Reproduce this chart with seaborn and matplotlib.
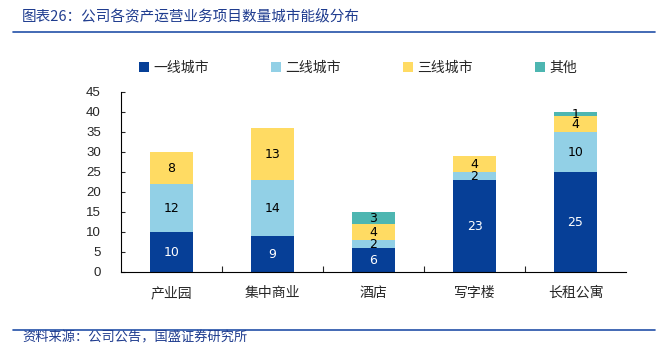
import matplotlib
matplotlib.use("Agg")
import matplotlib.pyplot as plt
import seaborn as sns
import numpy as np
from matplotlib.patches import Patch
from matplotlib.lines import Line2D

categories = ["产业园", "集中商业", "酒店", "写字楼", "长租公寓"]
series_names = ["一线城市", "二线城市", "三线城市", "其他"]
tier1 = [10, 9, 6, 23, 25]
tier2 = [12, 14, 2, 2, 10]
tier3 = [8, 13, 4, 4, 4]
other = [0, 0, 3, 0, 1]
yticks = [0, 5, 10, 15, 20, 25, 30, 35, 40, 45]
title = "图表26：公司各资产运营业务项目数量城市能级分布"
source = "资料来源：公司公告，国盛证券研究所"

colors = ["#063f97", "#92d0e6", "#ffdb63", "#4db6b1"]
label_colors = ["white", "black", "black", "black"]

sns.set_theme(style="white")
plt.rcParams["font.family"] = ["Noto Sans CJK SC", "DejaVu Sans"]

fig = plt.figure(figsize=(6.65, 3.47), dpi=100)
ax = fig.add_axes([121/665, 1-272/347, 505/665, 180/347])

bottom = np.zeros(len(categories))
for name, vals, c, lc in zip(series_names, [tier1, tier2, tier3, other], colors, label_colors):
    vals = np.array(vals, dtype=float)
    sns.barplot(x=categories, y=vals, bottom=bottom, color=c, width=0.42,
                ax=ax, saturation=1, edgecolor="none")
    cont = ax.containers[-1]
    labels = [f"{int(v)}" if v > 0 else "" for v in vals]
    ax.bar_label(cont, labels=labels, label_type="center", color=lc, fontsize=9,
                 family="DejaVu Sans")
    bottom += vals

ax.set_ylim(0, 45)
ax.set_xlim(-0.5, 4.5)
ax.set_yticks(yticks)
ax.set_yticklabels([str(t) for t in yticks], fontsize=9.5, family="Liberation Sans")
ax.tick_params(axis="y", direction="in", length=3, width=0.8, pad=14.5, left=True)
ax.set_xticks(np.arange(len(categories)))
ax.set_xticklabels(categories, fontsize=10)
ax.tick_params(axis="x", length=0, pad=10)
ax.set_xticks(np.arange(len(categories) - 1) + 0.5, minor=True)
ax.tick_params(axis="x", which="minor", direction="in", length=4, width=0.8, bottom=True)
for s in ["top", "right"]:
    ax.spines[s].set_visible(False)
for s in ["left", "bottom"]:
    ax.spines[s].set_color("black")
    ax.spines[s].set_linewidth(0.8)
ax.set_xlabel("")
ax.set_ylabel("")

handles = [Patch(facecolor=c, edgecolor="none") for c in colors]
fig.legend(handles, series_names, loc="center", bbox_to_anchor=(358/665, 1-68/347),
           ncol=4, frameon=False, fontsize=10, handlelength=0.7, handleheight=0.7,
           handletextpad=0.3, columnspacing=4.5)

tc = "#1f3c8f"
fig.text(22/665, 1-17/347, title, fontsize=10.5, color=tc, va="center", ha="left",
         style="italic")
fig.add_artist(Line2D([13/665, 655/665], [1-32/347, 1-32/347], color="#2350a8", lw=1.2))
fig.add_artist(Line2D([13/665, 655/665], [1-330/347, 1-330/347], color="#2350a8", lw=1.2))
fig.text(22/665, 1-338/347, source, fontsize=9.5, color=tc, va="center", ha="left",
         style="italic")

fig.savefig("out.png", dpi=100)
